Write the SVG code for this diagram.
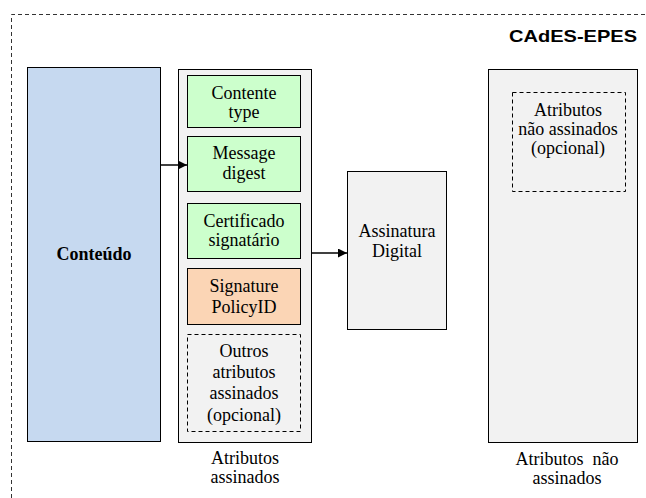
<svg xmlns="http://www.w3.org/2000/svg" width="646" height="498" viewBox="0 0 646 498">
<defs>
<marker id="ah" viewBox="0 0 10 10" refX="10" refY="5" markerWidth="9" markerHeight="9" markerUnits="userSpaceOnUse" orient="auto">
<path d="M0,0 L10,5 L0,10 z" fill="#000"/>
</marker>
<style>
.t{font-family:'Liberation Serif','Times New Roman',serif;font-size:18px;fill:#000;text-anchor:middle}
.b{font-weight:bold}
.box{stroke:#000;stroke-width:1}
.dash{fill:none;stroke:#000;stroke-width:1;stroke-dasharray:4,3}
.grey{fill:#f2f2f2}
.green{fill:#ccffcc}
.conn{stroke:#000;stroke-width:1.5;fill:none}
</style>
</defs>
<rect width="646" height="498" fill="#fff"/>
<g id="frame">
<path d="M11.5,498 V14.5 H646" fill="none" stroke="#333" stroke-width="1" stroke-dasharray="4,3"/>
<text x="637" y="42" font-family="'Liberation Sans',Arial,sans-serif" font-size="17" font-weight="bold" text-anchor="end" textLength="128" lengthAdjust="spacingAndGlyphs">CAdES-EPES</text>
</g>
<g id="conteudo">
<rect class="box" x="27.5" y="67.5" width="133" height="374" fill="#c6d9f0"/>
<text class="t b" x="94" y="260">Conteúdo</text>
</g>
<g id="atributos-assinados">
<rect class="box grey" x="178.5" y="69.5" width="133" height="373"/>
<text class="t" x="245" y="464">Atributos</text>
<text class="t" x="245" y="483">assinados</text>
</g>
<g id="contente-type">
<rect class="box green" x="187.5" y="75.5" width="113" height="52"/>
<text class="t" x="244" y="99">Contente</text>
<text class="t" x="244" y="118">type</text>
</g>
<g id="message-digest">
<rect class="box green" x="187.5" y="136.5" width="113" height="55"/>
<text class="t" x="244" y="159">Message</text>
<text class="t" x="244" y="179">digest</text>
</g>
<g id="certificado">
<rect class="box green" x="187.5" y="203.5" width="113" height="55"/>
<text class="t" x="244" y="227">Certificado</text>
<text class="t" x="244" y="246">signatário</text>
</g>
<g id="signature-policy">
<rect class="box" x="187.5" y="268.5" width="113" height="56" fill="#fbd5b5"/>
<text class="t" x="244" y="292">Signature</text>
<text class="t" x="244" y="313">PolicyID</text>
</g>
<g id="outros">
<rect class="dash" x="187.5" y="334.5" width="113" height="97"/>
<text class="t" x="244" y="357">Outros</text>
<text class="t" x="244" y="378">atributos</text>
<text class="t" x="244" y="399">assinados</text>
<text class="t" x="244" y="421">(opcional)</text>
</g>
<g id="assinatura">
<rect class="box grey" x="347.5" y="171.5" width="99" height="158"/>
<text class="t" x="397" y="237">Assinatura</text>
<text class="t" x="397" y="257">Digital</text>
</g>
<g id="atributos-nao-assinados">
<rect class="box grey" x="488.5" y="69.5" width="149" height="373"/>
<text class="t" x="567" y="465" xml:space="preserve">Atributos  não</text>
<text class="t" x="567" y="484">assinados</text>
</g>
<g id="nao-assinados-opcional">
<rect class="dash" x="512.5" y="92.5" width="113" height="99"/>
<text class="t" x="568" y="116">Atributos</text>
<text class="t" x="568" y="135">não assinados</text>
<text class="t" x="568" y="154">(opcional)</text>
</g>
<g id="connectors">
<line class="conn" x1="161" y1="165" x2="187" y2="165" marker-end="url(#ah)"/>
<line class="conn" x1="312" y1="253" x2="347" y2="253" marker-end="url(#ah)"/>
</g>
</svg>
